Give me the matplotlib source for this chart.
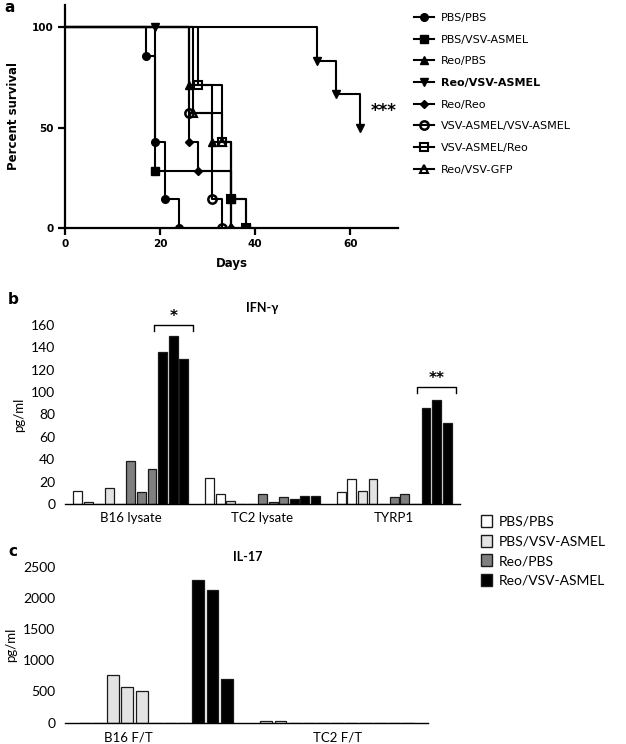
import matplotlib
matplotlib.use("Agg")
import matplotlib.pyplot as plt
from matplotlib.lines import Line2D
from matplotlib.patches import Patch
import numpy as np

# ---------------- Panel a: survival data ----------------
surv_labels = ["PBS/PBS", "PBS/VSV-ASMEL", "Reo/PBS", "Reo/VSV-ASMEL",
               "Reo/Reo", "VSV-ASMEL/VSV-ASMEL", "VSV-ASMEL/Reo", "Reo/VSV-GFP"]
t_pbs_pbs = [0, 17, 19, 21, 24]
s_pbs_pbs = [100, 85.7, 42.9, 14.3, 0]
t_pbs_vsv = [0, 19, 35, 38]
s_pbs_vsv = [100, 28.6, 14.3, 0]
t_reo_pbs = [0, 26, 31, 35]
s_reo_pbs = [100, 71.4, 42.9, 0]
t_reo_vsv = [0, 53, 57, 62]
s_reo_vsv = [100, 83.3, 66.7, 50]
censor_reo_vsv_t = [19]
censor_reo_vsv_s = [100]
t_reo_reo = [0, 26, 28, 35]
s_reo_reo = [100, 42.9, 28.6, 0]
t_vsv_vsv = [0, 26, 31, 33]
s_vsv_vsv = [100, 57.1, 14.3, 0]
t_vsv_reo = [0, 28, 33, 35, 38]
s_vsv_reo = [100, 71.4, 42.9, 14.3, 0]
t_reo_gfp = [0, 27, 33, 35]
s_reo_gfp = [100, 57.1, 42.9, 0]

# ---------------- Panel b: IFN-gamma (pg/ml), per category ----------------
ifn_categories = ["B16 lysate", "TC2 lysate", "TYRP1"]
ifn_pbs_pbs = [[12, 1.5], [23, 9], [11, 22]]
ifn_pbs_vsv = [[0, 14, 0], [3, 0, 0], [12, 22, 0]]
ifn_reo_pbs = [[38, 11, 31], [9, 2, 6], [6, 9, 0]]
ifn_reo_vsv = [[136, 150, 130], [4.5, 7, 7], [86, 93, 72]]

# ---------------- Panel c: IL-17 (pg/ml) ----------------
il17_categories = ["B16 F/T", "TC2 F/T"]
il17_pbs_pbs = [[0, 0], [20, 20]]
il17_pbs_vsv = [[765, 575, 515], [0, 0, 0]]
il17_reo_pbs = [[0, 0, 0], [0, 0, 0]]
il17_reo_vsv = [[2280, 2130, 705], [0, 0, 0]]

bar_groups = ["PBS/PBS", "PBS/VSV-ASMEL", "Reo/PBS", "Reo/VSV-ASMEL"]
bar_colors = ["#ffffff", "#e3e3e3", "#7f7f7f", "#000000"]

W, H = 626, 744
fig = plt.figure(figsize=(W / 100, H / 100), dpi=100)

def fx(px):
    return px / W

def fy(py):
    return 1 - py / H

# ================= Panel a =================
axa = fig.add_axes([fx(65), fy(228), fx(333), 223 / H])
series = [
    (t_pbs_pbs, s_pbs_pbs, dict(marker="o", ms=5.5, mfc="k")),
    (t_pbs_vsv, s_pbs_vsv, dict(marker="s", ms=5.2, mfc="k")),
    (t_reo_pbs, s_reo_pbs, dict(marker="^", ms=5.5, mfc="k")),
    (t_reo_vsv, s_reo_vsv, dict(marker="v", ms=5.5, mfc="k")),
    (t_reo_reo, s_reo_reo, dict(marker="D", ms=3.8, mfc="k")),
    (t_vsv_vsv, s_vsv_vsv, dict(marker="o", ms=6, mfc="none", mew=1.8)),
    (t_vsv_reo, s_vsv_reo, dict(marker="s", ms=6, mfc="none", mew=1.5)),
    (t_reo_gfp, s_reo_gfp, dict(marker="^", ms=6, mfc="none", mew=1.5)),
]
handles = []
for (t, s, mk) in series:
    axa.step(t, s, where="post", color="k", lw=1.5, zorder=2)
    axa.plot(t[1:], s[1:], ls="none", color="k", mec="k", zorder=3, **mk)
    handles.append(Line2D([], [], color="k", lw=1.5, mec="k", **mk))
axa.plot(censor_reo_vsv_t, censor_reo_vsv_s, ls="none", marker="v", ms=5.5,
         color="k", zorder=3)

axa.set_xlim(0, 70)
axa.set_ylim(0, 111)
axa.set_xticks([0, 20, 40, 60])
axa.set_yticks([0, 50, 100])
for sp in ["top", "right"]:
    axa.spines[sp].set_visible(False)
for sp in ["left", "bottom"]:
    axa.spines[sp].set_linewidth(1.6)
axa.tick_params(axis="both", direction="out", length=5, width=1.6,
                labelsize=7.5, pad=3)
for lab in axa.get_xticklabels() + axa.get_yticklabels():
    lab.set_fontweight("bold")
axa.set_ylabel("Percent survival", fontsize=8.5, fontweight="bold", labelpad=9)
axa.set_xlabel("Days", fontsize=8.5, fontweight="bold", labelpad=6)
axa.text(67, 58, "***", ha="center", va="center", fontsize=12,
         fontweight="bold")
leg = axa.legend(handles, surv_labels, loc="upper left",
                 bbox_to_anchor=(fx(414), fy(13)), bbox_transform=fig.transFigure,
                 frameon=False, fontsize=8, handlelength=1.8, handletextpad=0.6,
                 labelspacing=1.05, borderpad=0, borderaxespad=0)
for txt in leg.get_texts():
    if txt.get_text() == "Reo/VSV-ASMEL":
        txt.set_fontweight("bold")
fig.text(fx(4), fy(7), "a", fontsize=11, fontweight="bold", va="center")

# ================= Bar panels =================
FAM = ["Lato", "DejaVu Sans"]
groups_b = [ifn_pbs_pbs, ifn_pbs_vsv, ifn_reo_pbs, ifn_reo_vsv]
groups_c = [il17_pbs_pbs, il17_pbs_vsv, il17_reo_pbs, il17_reo_vsv]

def draw_bars(ax, groups, ncat, slot_w):
    nslot = sum(len(g[0]) for g in groups)
    start = -0.5 + (1 - nslot * slot_w) / 2
    centers = {}
    for ci in range(ncat):
        j = 0
        for gi, g in enumerate(groups):
            vals = g[ci]
            xs = [ci + start + (j + k + 0.5) * slot_w for k in range(len(vals))]
            ax.bar(xs, vals, width=slot_w * 0.84, color=bar_colors[gi],
                   edgecolor="#1a1a1a", linewidth=0.9, zorder=2)
            centers[(ci, gi)] = xs
            j += len(vals)
    return centers

def style_bar_axes(ax, ymax, ystep):
    ax.set_ylim(0, ymax)
    ax.set_yticks(np.arange(0, ymax + 1, ystep))
    for sp in ["top", "right", "left"]:
        ax.spines[sp].set_visible(False)
    ax.spines["bottom"].set_linewidth(1.0)
    ax.tick_params(axis="y", length=0, pad=7, labelsize=10)
    ax.tick_params(axis="x", length=0, pad=6, labelsize=9.5)
    for lab in ax.get_xticklabels() + ax.get_yticklabels():
        lab.set_family(FAM)
    ax.set_ylabel("pg/ml", fontsize=9.5, family=FAM, labelpad=4)

# ---- Panel b ----
axb = fig.add_axes([fx(65), fy(504), fx(395), 179 / H])
cb = draw_bars(axb, groups_b, len(ifn_categories), 0.0805)
axb.set_xlim(-0.5, len(ifn_categories) - 0.5)
axb.set_xticks(range(len(ifn_categories)))
axb.set_xticklabels(ifn_categories)
style_bar_axes(axb, 160, 20)
fig.text(fx(262), fy(308), "IFN-γ", ha="center", va="center", fontsize=9,
         fontweight="bold", family=FAM)
fig.text(fx(8), fy(299), "b", fontsize=11, fontweight="bold", va="center")

def bracket(ax, xs, ytop, yleg, w, star, ystar):
    x0, x1 = xs[0] - 0.85 * w, xs[-1] + 0.85 * w
    ax.plot([x0, x0, x1, x1], [yleg, ytop, ytop, yleg], color="k", lw=1.0,
            clip_on=False, zorder=4, solid_joinstyle="round")
    ax.text((x0 + x1) / 2, ystar, star, ha="center", va="center",
            fontsize=11, fontweight="bold", clip_on=False)

bracket(axb, cb[(0, 3)], 160, 155, 0.0805, "*", 168)
bracket(axb, cb[(2, 3)], 105, 99, 0.0805, "**", 112)

# ---- Panel c ----
axc = fig.add_axes([fx(65), fy(722.7), fx(363), 156 / H])
cc = draw_bars(axc, groups_c, len(il17_categories), 0.0782)
axc.set_xlim(-0.5, len(il17_categories) - 0.5)
axc.set_xticks([-0.15, 1.0])
axc.set_xticklabels(il17_categories)
style_bar_axes(axc, 2500, 500)
fig.text(fx(248), fy(557), "IL-17", ha="center", va="center", fontsize=9,
         fontweight="bold", family=FAM)
fig.text(fx(8), fy(552), "c", fontsize=11, fontweight="bold", va="center")

# ---- Legend for b/c ----
patches = [Patch(facecolor=c, edgecolor="#1a1a1a", linewidth=1.0)
           for c in bar_colors]
fig.legend(patches, bar_groups, loc="upper left",
           bbox_to_anchor=(fx(481), fy(515)), frameon=False,
           prop={"family": FAM, "size": 10}, handlelength=0.8,
           handleheight=0.95, handletextpad=0.45, labelspacing=0.5,
           borderpad=0, borderaxespad=0)

fig.savefig("out.png", dpi=100)
